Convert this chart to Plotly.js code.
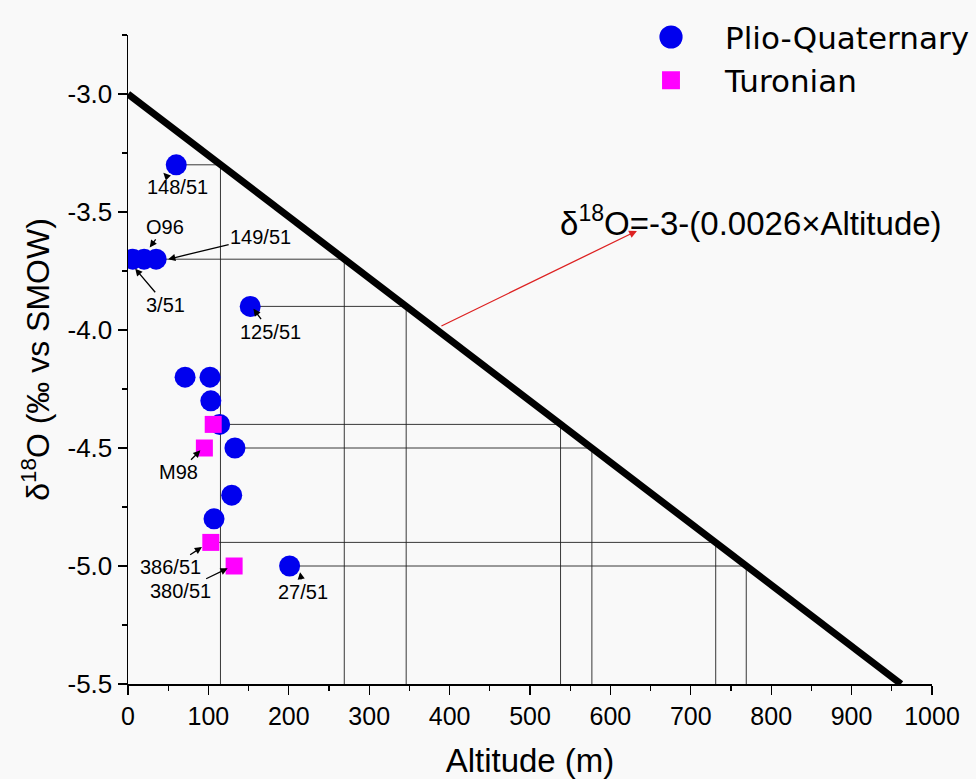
<!DOCTYPE html>
<html><head><meta charset="utf-8">
<script src="https://cdn.plot.ly/plotly-3.0.1.min.js"></script>
<style>html,body{margin:0;padding:0;background:#f9f9f9;}</style>
</head><body>
<div id="chart" style="width:976px;height:779px;"></div>
<script>
// Plio-Quaternary samples
const pqAlt = [60, 6, 20, 35, 152, 71, 102, 103, 114, 133, 129, 107, 201];
const pqD18O = [-3.3, -3.7, -3.7, -3.7, -3.9, -4.2, -4.2, -4.3, -4.4, -4.5, -4.7, -4.8, -5.0];
// Turonian samples
const turAlt = [106, 95, 103, 132];
const turD18O = [-4.4, -4.5, -4.9, -5.0];
// Regression line d18O = -3 - 0.0026*Altitude
const regAlt = [0, 961.5];
const regD18O = [-3.0, -5.5];
// Projection (drop) lines: from sample to regression line, then down to axis
const dropY = [-3.3, -3.7, -3.9, -4.4, -4.5, -4.9, -5.0];
const dropStartX = [60, 35, 152, 114, 133, 103, 201];
const dropEndX = [115, 269, 346, 538, 577, 731, 769];
const axisBottom = -5.5;
// Sample labels: text, arrow-head position, label position
const labelText = ['148/51', 'O96', '149/51', '3/51', '125/51', 'M98', '386/51', '380/51', '27/51'];
const labelHeadX = [44, 27, 50, 9, 156, 90, 92, 124, 214];
const labelHeadY = [-3.334, -3.65, -3.70, -3.74, -3.91, -4.51, -4.92, -5.01, -5.026];
const labelTextX = [61, 46, 165, 47, 177, 63, 53, 65, 218];
const labelTextY = [-3.393, -3.563, -3.605, -3.893, -4.007, -4.603, -5.005, -5.107, -5.11];

const dx = [], dy = [];
for (let i = 0; i < dropY.length; i++) {
  dx.push(dropStartX[i], dropEndX[i], dropEndX[i], null);
  dy.push(dropY[i], dropY[i], axisBottom, null);
}

const traces = [
  {x: dx, y: dy, mode: 'lines', line: {color: '#222', width: 0.9}, showlegend: false, hoverinfo: 'skip'},
  {x: regAlt, y: regD18O, mode: 'lines', line: {color: '#000', width: 7}, showlegend: false},
  {x: pqAlt, y: pqD18O, mode: 'markers', name: 'Plio-Quaternary',
   marker: {symbol: 'circle', size: 21, color: '#0000ee'}},
  {x: turAlt, y: turD18O, mode: 'markers', name: 'Turonian',
   marker: {symbol: 'square', size: 17, color: '#ff00ff'}}
];

const font = 'Liberation Sans, Arial, sans-serif';
const annotations = labelText.map((t, i) => ({
  x: labelHeadX[i], y: labelHeadY[i], xref: 'x', yref: 'y',
  ax: labelTextX[i], ay: labelTextY[i], axref: 'x', ayref: 'y',
  text: t, showarrow: true, arrowhead: 2, arrowsize: 1.1, arrowwidth: 1.3, arrowcolor: '#000',
  font: {family: font, size: 20, color: '#000'}
}));
annotations.push({
  x: 633, y: -3.58, xref: 'x', yref: 'y', ax: 388, ay: -3.986, axref: 'x', ayref: 'y',
  text: '', showarrow: true, arrowhead: 2, arrowsize: 1.2, arrowwidth: 1.3, arrowcolor: '#dd2222'
});
annotations.push({
  x: 775, y: -3.54, xref: 'x', yref: 'y', showarrow: false,
  text: 'δ<sup>18</sup>O=-3-(0.0026×Altitude)',
  font: {family: font, size: 33, color: '#000'}
});

const layout = {
  width: 976, height: 779,
  margin: {l: 128, r: 10, t: 35, b: 95},
  paper_bgcolor: '#f9f9f9', plot_bgcolor: '#f9f9f9',
  font: {family: font, color: '#000'},
  xaxis: {
    domain: [0, 0.9594],
    range: [0, 1000], tickvals: [0,100,200,300,400,500,600,700,800,900,1000],
    ticks: 'outside', ticklen: 9, tickwidth: 1.3, tickcolor: '#000',
    minor: {dtick: 50, ticks: 'outside', ticklen: 5, tickcolor: '#000', tickwidth: 1.3},
    showline: true, linecolor: '#000', linewidth: 1.5, showgrid: false, zeroline: false,
    tickfont: {size: 25, family: font},
    title: {text: 'Altitude (m)', font: {size: 33, family: font}, standoff: 20}
  },
  yaxis: {
    range: [-5.5, -2.75], tickvals: [-5.5, -5.0, -4.5, -4.0, -3.5, -3.0],
    ticktext: ['-5.5', '-5.0', '-4.5', '-4.0', '-3.5', '-3.0'],
    ticks: 'outside', ticklen: 9, tickwidth: 1.3, tickcolor: '#000',
    minor: {dtick: 0.25, tick0: -5.5, ticks: 'outside', ticklen: 5, tickcolor: '#000', tickwidth: 1.3},
    showline: true, linecolor: '#000', linewidth: 1.5, showgrid: false, zeroline: false,
    tickfont: {size: 26, family: font},
    title: {text: 'δ<sup>18</sup>O (‰ vs SMOW)', font: {size: 32, family: font}, standoff: 8}
  },
  legend: {x: 0.52, y: 1.038, xanchor: 'left', yanchor: 'top', itemwidth: 98,
    bgcolor: 'rgba(0,0,0,0)', font: {size: 31, family: 'DejaVu Sans, ' + font}},
  showlegend: true,
  annotations: annotations
};

Plotly.newPlot('chart', traces, layout, {displayModeBar: false, staticPlot: true}).then(gd => {
  // enlarge legend symbols to the size used in the original figure
  const pts = gd.querySelectorAll('.legend .traces');
  const scales = [1.45, 1.12];
  pts.forEach((tr, i) => {
    tr.querySelectorAll('path.scatterpts').forEach(p => {
      const t = p.getAttribute('transform') || '';
      p.setAttribute('transform', t + ' scale(' + (scales[i] || 1) + ')');
    });
  });
  // slide the legend to its place at the top-right edge without shrinking the plot
  const lg = gd.querySelector('g.legend');
  if (lg) {
    const m = /translate\(\s*([-\d.e]+)[ ,]+([-\d.e]+)\s*\)/.exec(lg.getAttribute('transform') || '');
    if (m) {
      const curLeft = parseFloat(m[1]);
      const targetLeft = 617;
      lg.setAttribute('transform', 'translate(' + targetLeft + ',' + m[2] + ')');
    }
  }
});
</script>
</body></html>
